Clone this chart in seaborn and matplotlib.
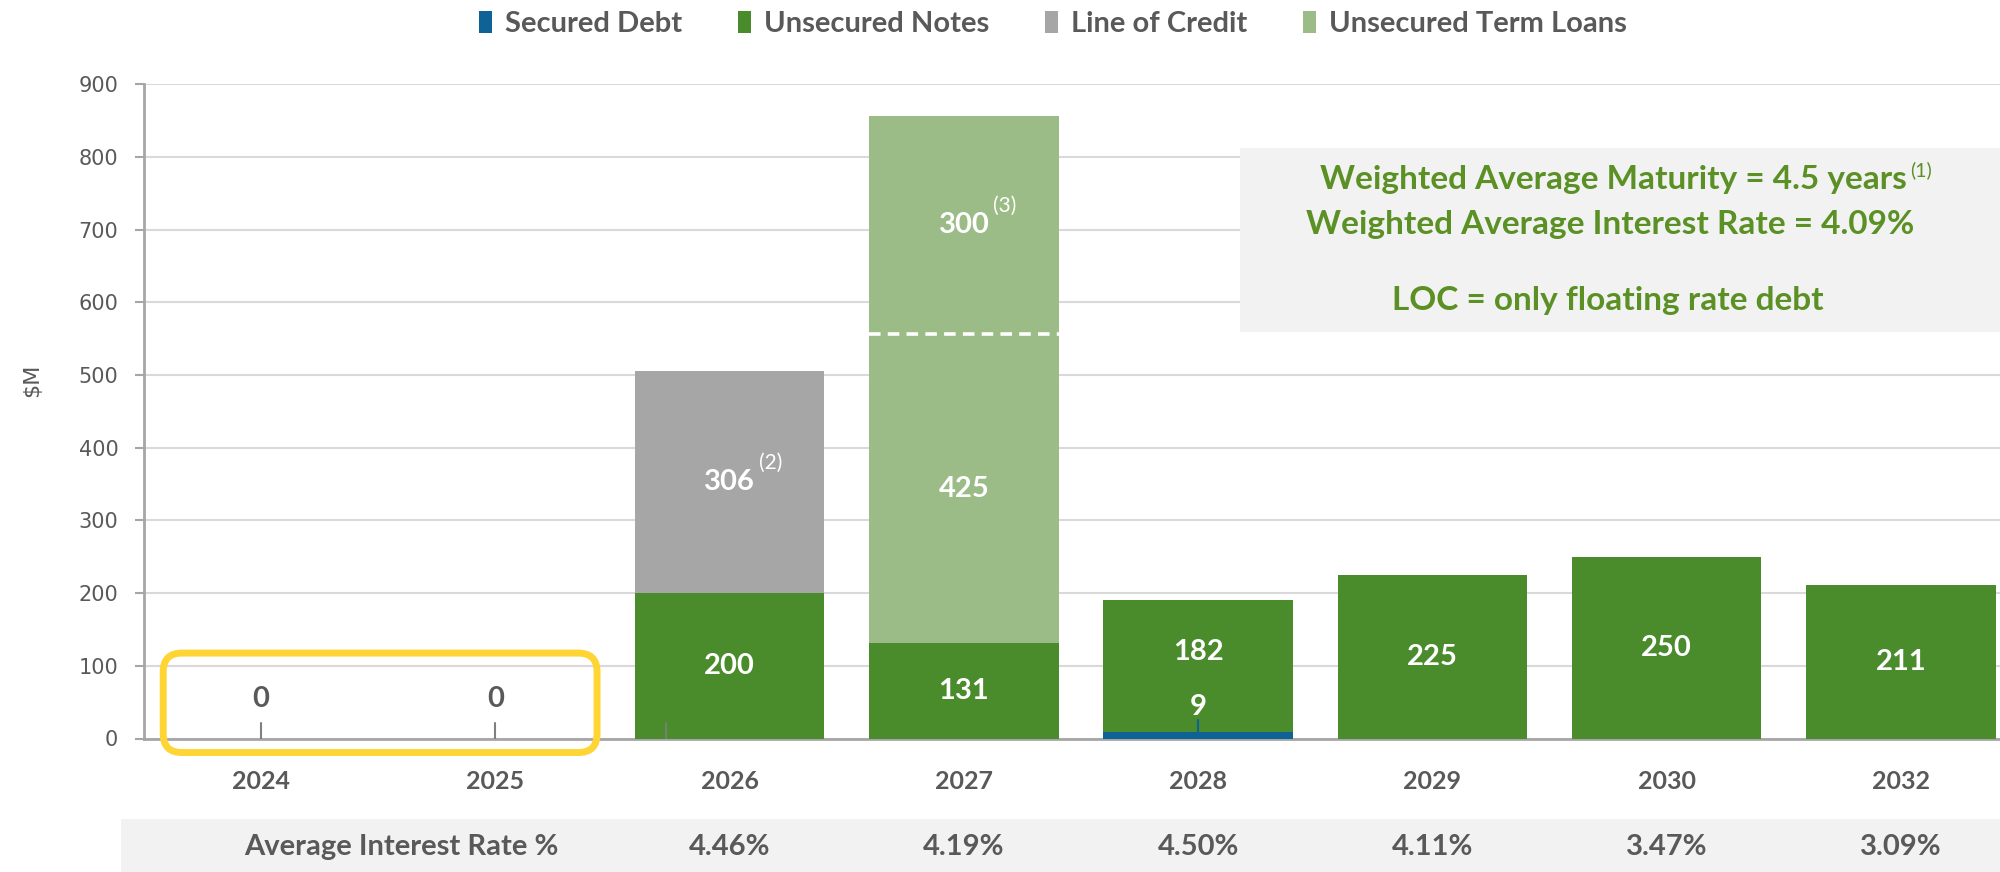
import numpy as np
import pandas as pd
import matplotlib
matplotlib.use("Agg")
import matplotlib.pyplot as plt
import seaborn as sns
from matplotlib.patches import Patch, Rectangle, FancyBboxPatch
import matplotlib.transforms as mtransforms

# ---------------- data ----------------
years = ["2024", "2025", "2026", "2027", "2028", "2029", "2030", "2032"]
secured_debt = [0, 0, 0, 0, 9, 0, 0, 0]
unsecured_notes = [0, 0, 200, 131, 182, 225, 250, 211]
line_of_credit = [0, 0, 306, 0, 0, 0, 0, 0]
term_loans_a = [0, 0, 0, 425, 0, 0, 0, 0]
term_loans_b = [0, 0, 0, 300, 0, 0, 0, 0]
series_names = ["Secured Debt", "Unsecured Notes", "Line of Credit", "Unsecured Term Loans"]
rate_years = ["2026", "2027", "2028", "2029", "2030", "2032"]
avg_rates = ["4.46%", "4.19%", "4.50%", "4.11%", "3.47%", "3.09%"]
yticks = [0, 100, 200, 300, 400, 500, 600, 700, 800, 900]
info_lines = ["Weighted Average Maturity = 4.5 years",
              "Weighted Average Interest Rate = 4.09%",
              "LOC = only floating rate debt"]

# ---------------- style ----------------
C_SEC = "#0F6296"
C_NOTES = "#4A8B2C"
C_LOC = "#A6A6A6"
C_TL = "#9BBC86"
C_TXT = "#595959"
C_GREEN_TXT = "#5B9025"
C_YELLOW = "#FFD535"
FONT = "Lato"

sns.set_theme(style="white")
plt.rcParams["font.family"] = [FONT, "DejaVu Sans"]

fig = plt.figure(figsize=(20, 8.72), dpi=100)
W, H = 2000, 872
ax_left, ax_right = 144, 2018
ax_top, ax_bot = 84.2, 738.5
ax = fig.add_axes([ax_left / W, 1 - ax_bot / H, (ax_right - ax_left) / W, (ax_bot - ax_top) / H])
figtr = fig.transFigure

df = pd.DataFrame({"year": years, "sec": secured_debt, "notes": unsecured_notes,
                   "loc": line_of_credit, "tla": term_loans_a, "tlb": term_loans_b})
df["c1"] = df["sec"]
df["c2"] = df["c1"] + df["notes"]
df["c3"] = df["c2"] + df["loc"]
df["c4"] = df["c3"] + df["tla"]
df["c5"] = df["c4"] + df["tlb"]

BW = 0.81
for col, colr in [("c5", C_TL), ("c4", C_TL), ("c3", C_LOC), ("c2", C_NOTES), ("c1", C_SEC)]:
    sns.barplot(data=df, x="year", y=col, order=years, color=colr, saturation=1,
                width=BW, ax=ax, zorder=3, linewidth=0)

ax.set_xlim(-0.5, len(years) - 0.5)
ax.set_ylim(0, 900)
ax.set_yticks(yticks)
ax.set_yticklabels([str(v) for v in yticks], fontfamily="DejaVu Sans", fontsize=15, color=C_TXT)
ax.set_xticks(range(len(years)))
ax.set_xticklabels(years, fontsize=18, fontweight="bold", color=C_TXT)
ax.set_xticks(np.arange(len(years) + 1) - 0.5, minor=True)
ax.tick_params(axis="x", which="major", length=0, pad=23)
ax.tick_params(axis="x", which="minor", length=11, width=1.5, color="#A6A6A6", direction="out")
ax.tick_params(axis="y", which="major", length=6.5, width=1.5, color="#A6A6A6", pad=12, left=True)
ax.set_xlabel("")
ax.set_ylabel("$M", fontfamily="DejaVu Sans", fontsize=16, color=C_TXT)
ax.yaxis.set_label_coords(-0.0544, 0.548)
ax.grid(axis="y", color="#D9D9D9", linewidth=1.5, zorder=0)
ax.set_axisbelow(True)
for s in ["top", "right"]:
    ax.spines[s].set_visible(False)
for s in ["left", "bottom"]:
    ax.spines[s].set_color("#A6A6A6")
    ax.spines[s].set_linewidth(2)

# dashed separator between term loan tranches
for i, (lo, a, b) in enumerate(zip(df["c3"], df["tla"], df["tlb"])):
    if a > 0 and b > 0:
        ax.hlines(lo + a, i - BW / 2, i + BW / 2, colors="white", linewidth=2.6,
                  linestyles=(0, (3.2, 2.0)), zorder=5)

# ---------------- labels ----------------
lab_kw = dict(ha="center", va="center", fontsize=21, fontweight="bold", zorder=6)
sup_kw = dict(textcoords="offset points", ha="left", va="center", zorder=6)
notes_nudge = {"2028": 19}
supers = {("loc", "2026"): "(2)", ("tlb", "2027"): "(3)"}
for i, y in enumerate(years):
    r = df.iloc[i]
    total = r["c5"]
    if total == 0:
        ax.text(i, 54, "0", color=C_TXT, **lab_kw)
        ax.plot([i, i], [0, 21], color="#7F7F7F", lw=1.5, zorder=4)
        continue
    if r["sec"] > 0:
        ax.text(i, r["sec"] + 35, f"{r['sec']:.0f}", color="white", **lab_kw)
        ax.plot([i, i], [r["sec"], r["sec"] + 17], color=C_SEC, lw=1.5, zorder=5)
    for key, lo in [("notes", "c1"), ("loc", "c2"), ("tla", "c3"), ("tlb", "c4")]:
        v = r[key]
        if v > 0:
            yy = r[lo] + v / 2 + (notes_nudge.get(y, 0) if key == "notes" else 0)
            t = ax.text(i, yy, f"{v:.0f}", color="white", **lab_kw)
            if (key, y) in supers:
                ax.annotate(supers[(key, y)], xy=(1, 1.25), xycoords=t, xytext=(3, 0),
                            color="white", fontsize=15, **sup_kw)
# small leader tick at 2026
ax.plot([2 - 0.27, 2 - 0.27], [0, 21], color="#7F7F7F", lw=1.2, zorder=4)

# yellow highlight around 2024-2025
rb = FancyBboxPatch((-0.418, -19.3), 1.852, 136.8,
                    boxstyle="round,pad=0,rounding_size=0.08", mutation_aspect=321,
                    facecolor="none", edgecolor=C_YELLOW, linewidth=5, clip_on=False, zorder=7)
ax.add_patch(rb)

# ---------------- info box ----------------
ax.add_patch(Rectangle((1240 / W, 1 - 332 / H), (2000 - 1240) / W, 184 / H,
                       transform=figtr, facecolor="#F2F2F2", edgecolor="none",
                       zorder=2, clip_on=False))
info_kw = dict(ha="center", va="center", fontsize=24, fontweight="bold", color=C_GREEN_TXT,
               transform=figtr, zorder=4, clip_on=False)
t1 = ax.text(1613 / W, 1 - 179 / H, info_lines[0], **info_kw)
ax.text(1610 / W, 1 - 224.5 / H, info_lines[1], **info_kw)
ax.text(1608 / W, 1 - 300 / H, info_lines[2], **info_kw)
ax.annotate("(1)", xy=(1, 0.82), xycoords=t1, xytext=(3, 0), color=C_GREEN_TXT,
            fontsize=14, **sup_kw)

# ---------------- legend ----------------
handles = [Patch(facecolor=c, edgecolor="none") for c in [C_SEC, C_NOTES, C_LOC, C_TL]]
leg = fig.legend(handles, series_names, loc="center", bbox_to_anchor=(0.5265, 1 - 24 / H),
                 ncol=4, frameon=False, handlelength=0.45, handleheight=0.75, handletextpad=0.45,
                 columnspacing=1.9, prop={"family": FONT, "weight": "bold", "size": 21})
for txt in leg.get_texts():
    txt.set_color(C_TXT)

# ---------------- rate table ----------------
ax.add_patch(Rectangle((121 / W, 0), 1, 53 / H, transform=figtr, facecolor="#F2F2F2",
                       edgecolor="none", zorder=0.5, clip_on=False))
ax.text(401 / W, 1 - 847 / H, "Average Interest Rate %", ha="center", va="center",
        fontsize=21, fontweight="bold", color=C_TXT, transform=figtr, clip_on=False, zorder=4)
trans = mtransforms.blended_transform_factory(ax.transData, figtr)
for yr, rate in zip(rate_years, avg_rates):
    ax.text(years.index(yr), 1 - 847 / H, rate, transform=trans, ha="center", va="center",
            fontsize=21, fontweight="bold", color=C_TXT, clip_on=False, zorder=4)

fig.savefig("out.png", dpi=100)
